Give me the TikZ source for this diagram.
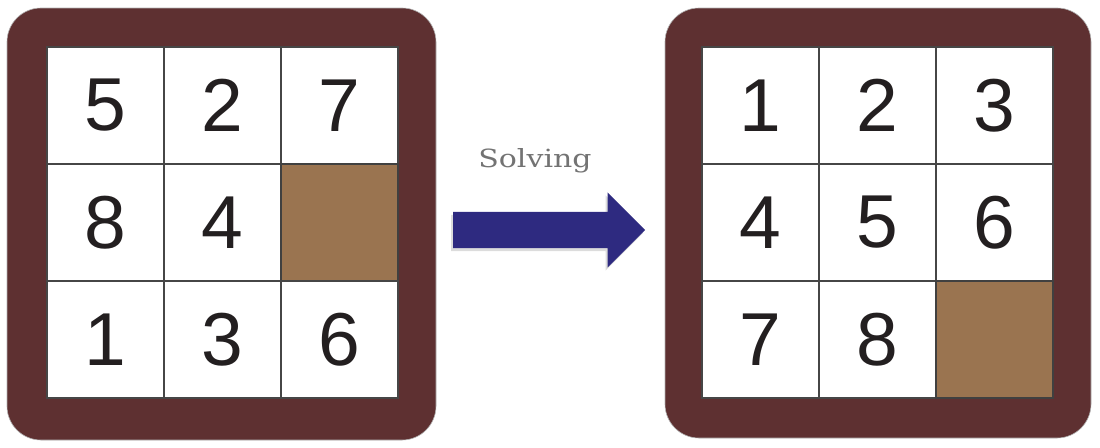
\documentclass[tikz,border=0pt]{standalone}
\usepackage{fontspec}
\newfontfamily\digitfont{Liberation Sans}
\newfontfamily\labelfont{DejaVu Serif}
\usetikzlibrary{shapes.arrows,shadows}
\definecolor{framebrown}{HTML}{5E3031}
\definecolor{blankbrown}{HTML}{9A7450}
\definecolor{arrowblue}{HTML}{2E2A80}
\definecolor{digitblack}{HTML}{231F20}
\definecolor{labelgray}{HTML}{737373}
\begin{document}
\begin{tikzpicture}[
  x=1pt, y=-1pt,
  board/.style={rectangle, rounded corners=34pt, fill=framebrown, draw=gray!60, line width=0.6pt, inner sep=0pt},
  tile/.style={rectangle, draw=gray!55!black, line width=1.6pt, fill=white, minimum size=117pt, inner sep=0pt,
    font=\digitfont\fontsize{75}{80}\selectfont, text=digitblack},
  blank/.style={tile, fill=blankbrown, draw=black!75},
  every node/.style={}
]
  \useasboundingbox (0,0) rectangle (1100,447);

  % start board
  \node[board, minimum width=429pt, minimum height=432pt] (lboard) at (221.5,224) {};
  \node[tile] (l11) at (105.5,105.5) {5};
  \node[tile] (l12) at (222.5,105.5) {2};
  \node[tile] (l13) at (339.5,105.5) {7};
  \node[tile] (l21) at (105.5,222.5) {8};
  \node[tile] (l22) at (222.5,222.5) {4};
  \node[blank] (l23) at (339.5,222.5) {};
  \node[tile] (l31) at (105.5,339.5) {1};
  \node[tile] (l32) at (222.5,339.5) {3};
  \node[tile] (l33) at (339.5,339.5) {6};

  % goal board
  \node[board, minimum width=426pt, minimum height=430pt] (rboard) at (878,223) {};
  \node[tile] (r11) at (760.5,105.5) {1};
  \node[tile] (r12) at (877.5,105.5) {2};
  \node[tile] (r13) at (994.5,105.5) {3};
  \node[tile] (r21) at (760.5,222.5) {4};
  \node[tile] (r22) at (877.5,222.5) {5};
  \node[tile] (r23) at (994.5,222.5) {6};
  \node[tile] (r31) at (760.5,339.5) {7};
  \node[tile] (r32) at (877.5,339.5) {8};
  \node[blank] (r33) at (994.5,339.5) {};

  % arrow and label
  \node[single arrow, fill=arrowblue, inner xsep=0pt, inner ysep=18pt, minimum height=192pt,
    single arrow head extend=19.5pt, anchor=tail,
    drop shadow={shadow xshift=-2pt, shadow yshift=-3pt, fill=gray!55}] (solve) at (453,230) {};
  \node[text=labelgray, font=\labelfont\fontsize{25}{30}\selectfont, anchor=base] (solvelbl) at (535,167)
    {\scalebox{1.2}[1]{Solving}};
\end{tikzpicture}
\end{document}
